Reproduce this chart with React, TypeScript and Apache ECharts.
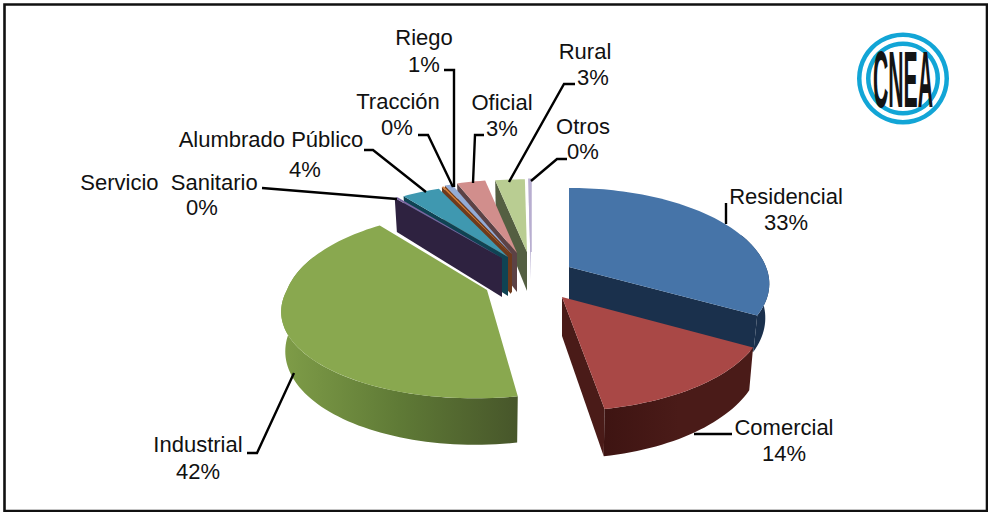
import React, { useEffect, useRef } from "react";
import * as echarts from "echarts";

const categories = ["Residencial", "Comercial", "Industrial", "Servicio  Sanitario", "Alumbrado Público", "Tracción", "Riego", "Oficial", "Rural", "Otros"];
const values = [33.2, 14.0, 42.3, 0.3, 3.6, 0.2, 0.7, 2.7, 2.8, 0.2];
const percentLabels = ["33%", "14%", "42%", "0%", "4%", "0%", "1%", "3%", "3%", "0%"];

const topColors = ["#4674a8", "#a94846", "#89a84f", "#7a66a0", "#3f98b0", "#d9823a", "#94acd6", "#d18e8c", "#b9cd92", "#b8aed0"];
const wallColors = ["#1a304c", "#4a1b18", "#5f7a36", "#2e2240", "#0f4353", "#6e3a1c", "#6e3a1c", "#5c4245", "#545f42", "#b0a6cc"];
const wallEndColors = ["#1a304c", "#4a1b18", "#47562a", "#2e2240", "#0f4353", "#6e3a1c", "#6e3a1c", "#5c4245", "#545f42", "#b0a6cc"];
const wallStartColors = ["#1a304c", "#3e1412", "#7f9d48", "#2e2240", "#0f4353", "#6e3a1c", "#6e3a1c", "#5c4245", "#545f42", "#b0a6cc"];

// Where each exploded slice's tip sits, its solid's proportions, and its paint order (back to front)
const apexX = [569, 562, 487, 502, 508, 511, 512, 517, 527, 531];
const apexY = [267, 297, 290, 258, 257, 255, 254, 253, 252, 252];
const backSquash = [1, 1, 1, 0.93, 0.93, 0.93, 0.93, 0.93, 0.92, 0.92];
const frontSquash = [0.96, 1, 0.95, 1, 1, 1, 1, 1, 1, 1];
const widthScale = [0.985, 1, 1, 1, 1, 1, 1, 1, 1, 1];
const frontSkew = [0, 0, -12, 0, 0, 0, 0, 0, 0, 0];
const depths = [33, 39, 38, 39, 39, 39, 39, 39, 39, 28];
const edgeWidths = [0, 0, 0, 0, 0, 0, 0, 0, 0, 1.5];
const paintOrder = [7, 9, 8, 6, 5, 4, 3, 2, 1, 0];

const A = 200, B = 93.4, K = 0.181, SHRINK = 0.98;
const total = values.reduce((s, v) => s + v, 0);
const toRad = (share: number) => (share / total) * Math.PI * 2;

function project(i: number, th: number, lower: boolean) {
  const x = Math.sin(th), y = -Math.cos(th);
  const s = 1 / (1 - K * y);
  const sq = y < 0 ? backSquash[i] : frontSquash[i];
  let dx = A * widthScale[i] * x * s + frontSkew[i] * Math.max(y, 0);
  const dy = B * y * s * sq;
  if (lower) dx *= SHRINK;
  return [apexX[i] + dx, apexY[i] + dy + (lower ? depths[i] * s : 0)];
}

function arcPts(i: number, a: number, b: number, lower: boolean) {
  const pts: number[][] = [];
  const n = Math.max(2, Math.ceil((b - a) / 0.03));
  for (let k = 0; k <= n; k++) pts.push(project(i, a + ((b - a) * k) / n, lower));
  return pts;
}

const renderSlice = (params: any) => {
  const i = params.dataIndex;
  const before = values.slice(0, i).reduce((s, v) => s + v, 0);
  const a = toRad(before), b = toRad(before + values[i]);
  const ax = apexX[i], ay = apexY[i];
  const base = paintOrder[i] * 10;
  const tipLow = [ax, ay + depths[i]];
  const children: any[] = [];
  const wall = (th: number) => {
    const t = project(i, th, false), l = project(i, th, true);
    return { type: "polygon", z2: base + 1, shape: { points: [[ax, ay], t, l, tipLow] }, style: { fill: wallColors[i] } };
  };
  if (a > Math.PI) children.push(wall(a));
  if (b < Math.PI) children.push(wall(b));
  const fa = Math.max(a, 1.2), fb = Math.min(b, 5.1);
  if (fb > fa) {
    const pts = arcPts(i, fa, fb, false).concat(arcPts(i, fa, fb, true).reverse());
    children.push({
      type: "polygon", z2: base + 2, shape: { points: pts },
      style: {
        fill: {
          type: "linear", x: 0, y: 0, x2: 1, y2: 0,
          colorStops: [
            { offset: 0, color: wallStartColors[i] },
            { offset: 0.5, color: wallColors[i] },
            { offset: 1, color: wallEndColors[i] },
          ],
        },
      },
    });
  }
  children.push({
    type: "polygon", z2: base + 3,
    shape: { points: [[ax, ay], ...arcPts(i, a, b, false)] },
    style: { fill: topColors[i], stroke: edgeWidths[i] ? topColors[i] : "none", lineWidth: edgeWidths[i] },
  });
  return { type: "group", children };
};

// label block: centre x of name, name y, centre x of percent, percent y
const labelLayout = [
  [786, 196, 786, 222],
  [784, 427, 784, 453],
  [198, 444, 198, 471],
  [169, 182, 202, 207],
  [271, 139, 305, 169],
  [398, 101, 397, 127],
  [424, 37, 424, 64],
  [502, 102, 502, 128],
  [585, 51, 593, 77],
  [583, 126, 583, 151],
];
const leaders = [
  [[726, 203], [726, 224]],
  [[694, 434], [732, 434]],
  [[247, 453], [257, 453], [294, 373]],
  [[262, 188], [397, 199]],
  [[364, 150], [373, 150], [426, 192]],
  [[418, 135], [428, 135], [453, 187]],
  [[444, 70], [454, 70], [454, 187]],
  [[484, 135], [475, 135], [473, 183]],
  [[575, 84], [564, 84], [509, 182]],
  [[567, 159], [557, 159], [531, 181]],
];

const FONT = '"Liberation Sans", Arial, sans-serif';

function buildGraphic() {
  const els: any[] = [
    { type: "rect", z: 20, shape: { x: 4.5, y: 4.5, width: 982.5, height: 506.5 }, style: { fill: "none", stroke: "#111", lineWidth: 2.6 } },
    { type: "ring", z: 20, shape: { cx: 903, cy: 78.5, r: 46, r0: 41.5 }, style: { fill: "#12a5d6" } },
    { type: "ring", z: 20, shape: { cx: 903, cy: 78.5, r: 37, r0: 32.5 }, style: { fill: "#12a5d6" } },
    {
      type: "text", z: 20, x: 903, y: 79, scaleX: 0.265,
      style: { text: "CNEA", fill: "#141414", font: `bold 80px ${FONT}`, textAlign: "center", textVerticalAlign: "middle" },
    },
  ];
  categories.forEach((name, i) => {
    const [nx, ny, px, py] = labelLayout[i];
    els.push({ type: "text", z: 20, x: nx, y: ny, style: { text: name, fill: "#111", font: `22px ${FONT}`, textAlign: "center", textVerticalAlign: "middle" } });
    els.push({ type: "text", z: 20, x: px, y: py, style: { text: percentLabels[i], fill: "#111", font: `22px ${FONT}`, textAlign: "center", textVerticalAlign: "middle" } });
    els.push({ type: "polyline", z: 20, shape: { points: leaders[i] }, style: { fill: "none", stroke: "#000", lineWidth: 2.4 } });
  });
  return els;
}

export default function App() {
  const ref = useRef<HTMLDivElement>(null);
  useEffect(() => {
    document.body.style.margin = "0";
    const chart = echarts.init(ref.current!, null, { renderer: "svg" });
    chart.setOption({
      animation: false,
      backgroundColor: "#ffffff",
      series: [{ type: "custom", coordinateSystem: "none", silent: true, data: values, renderItem: renderSlice, clip: false }],
      graphic: { elements: buildGraphic() },
    });
    return () => chart.dispose();
  }, []);
  return <div ref={ref} style={{ width: 988, height: 512 }} />;
}
